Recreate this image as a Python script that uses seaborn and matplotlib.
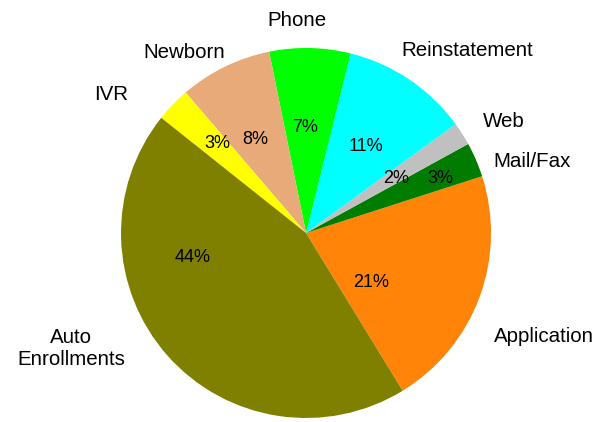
import matplotlib
matplotlib.use("Agg")
import matplotlib.pyplot as plt
import seaborn as sns

# Data (counter-clockwise order)
categories = ["Application", "Mail/Fax", "Web", "Reinstatement", "Phone",
              "Newborn", "IVR", "Auto\nEnrollments"]
values = [21, 3, 2, 11, 7, 8, 3, 44]
colors = ["#FF8408", "#007D00", "#C0C0C0", "#00FFFF", "#00FF00",
          "#E8AA78", "#FFFF00", "#808000"]

# Layout: label / percentage positions in pie-radius units
label_pos = [(1.286, -0.562), (1.222, 0.389), (1.070, 0.600), (0.870, 0.984),
             (-0.049, 1.151), (-0.659, 0.978), (-1.054, 0.746), (-1.270, -0.627)]
pct_pos = [(0.351, -0.270), (0.724, 0.297), (0.486, 0.297), (0.324, 0.465),
           (-0.005, 0.568), (-0.276, 0.508), (-0.481, 0.481), (-0.611, -0.135)]

sns.set_theme(style="white")
plt.rcParams["font.family"] = ["Liberation Sans", "DejaVu Sans"]

fig = plt.figure(figsize=(5.97, 4.22), dpi=100)
ax = fig.add_axes([0.2027, 0.0095, 0.6198, 0.8768])

wedges, texts, autotexts = ax.pie(
    values, labels=categories, colors=colors, startangle=-58.5,
    counterclock=True, autopct=lambda p: f"{p:.0f}%",
    wedgeprops=dict(linewidth=0), textprops=dict(color="black"))

for t, (x, y) in zip(texts, label_pos):
    t.set_position((x, y))
    t.set_ha("center")
    t.set_va("center")
    t.set_fontsize(14.8)
    t.set_linespacing(1.2)
    t.set_clip_on(False)

for t, (x, y), v in zip(autotexts, pct_pos, values):
    t.set_text(f"{v}%")
    t.set_position((x, y))
    t.set_ha("center")
    t.set_va("center")
    t.set_fontsize(13)

ax.set_aspect("auto")
ax.set_xlim(-1, 1)
ax.set_ylim(-1, 1)
ax.axis("off")

fig.savefig("out.png", dpi=100, facecolor="white")
